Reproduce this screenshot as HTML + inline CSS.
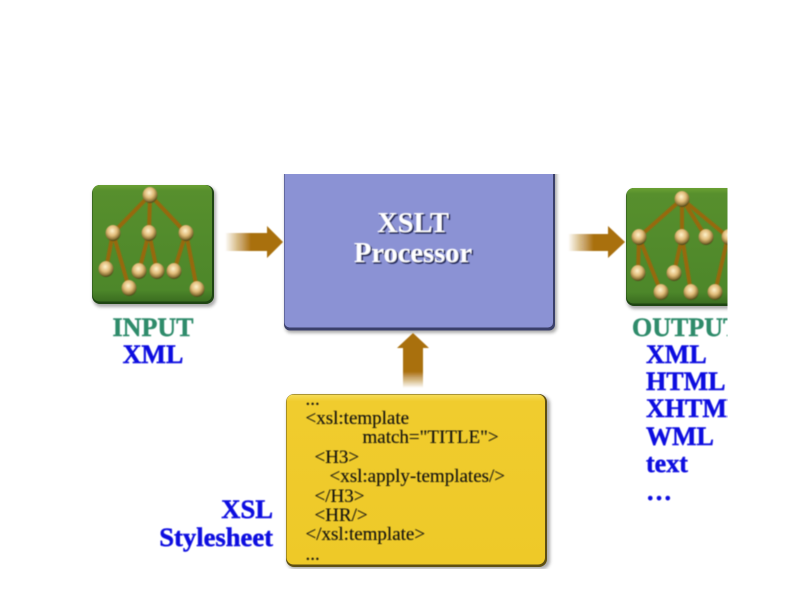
<!DOCTYPE html>
<html lang="en">
<head>
<meta charset="utf-8">
<title>XSLT Processor Diagram</title>
<style>
html,body{margin:0;padding:0;background:#fff;}
svg{display:block;}
text{font-family:"Liberation Serif",serif;}
.b{font-weight:bold;font-size:26px;fill:#0b0be0;stroke:#0b0be0;stroke-width:0.45;}
.g{font-weight:bold;font-size:26px;fill:#2e8b6b;stroke:#2e8b6b;stroke-width:0.4;}
.c{font-size:19px;fill:#111;stroke:#111;stroke-width:0.12;}
.l{stroke:#96690f;stroke-width:4;fill:none;stroke-linecap:round;}
</style>
</head>
<body>
<svg width="800" height="600" viewBox="0 0 800 600" xmlns="http://www.w3.org/2000/svg">
<defs>
  <radialGradient id="ball" cx="45%" cy="36%" r="62%">
    <stop offset="0" stop-color="#fff3cc"/>
    <stop offset="0.5" stop-color="#e0bb78"/>
    <stop offset="0.85" stop-color="#8d7336"/>
    <stop offset="1" stop-color="#4c4a1c"/>
  </radialGradient>
  <linearGradient id="gr" x1="0" y1="0" x2="0" y2="1">
    <stop offset="0" stop-color="#6aa033"/>
    <stop offset="0.05" stop-color="#578f2d"/>
    <stop offset="0.9" stop-color="#4d872a"/>
    <stop offset="1" stop-color="#3b6d20"/>
  </linearGradient>
  <linearGradient id="fadeR" x1="0" y1="0" x2="1" y2="0">
    <stop offset="0" stop-color="#a96f0c" stop-opacity="0"/>
    <stop offset="0.45" stop-color="#a96f0c"/>
    <stop offset="1" stop-color="#a96f0c"/>
  </linearGradient>
  <linearGradient id="fadeU" x1="0" y1="1" x2="0" y2="0">
    <stop offset="0" stop-color="#a96f0c" stop-opacity="0"/>
    <stop offset="0.3" stop-color="#a96f0c"/>
    <stop offset="1" stop-color="#a96f0c"/>
  </linearGradient>
  <linearGradient id="ye" x1="0" y1="0" x2="0" y2="1">
    <stop offset="0" stop-color="#f6dc5a"/>
    <stop offset="0.04" stop-color="#f0cc2e"/>
    <stop offset="1" stop-color="#eec928"/>
  </linearGradient>
  <clipPath id="right"><rect x="560" y="170" width="167.5" height="400"/></clipPath>
  <clipPath id="proc"><rect x="270" y="174" width="300" height="170"/></clipPath>
  <clipPath id="yel"><rect x="270" y="385" width="300" height="184"/></clipPath>
  <filter id="soft" x="-5%" y="-5%" width="110%" height="110%"><feGaussianBlur stdDeviation="0.4"/></filter>
  <filter id="sh" x="-10%" y="-10%" width="120%" height="120%"><feGaussianBlur stdDeviation="1.6"/></filter>
</defs>

<!-- Input tree -->
<rect x="93" y="187" width="123" height="120" rx="8" fill="#888" opacity="0.7" filter="url(#sh)"/>
<rect x="92" y="185" width="122" height="119" rx="8" fill="#1e4512"/>
<rect x="92.5" y="185" width="119.5" height="116.5" rx="7" fill="url(#gr)"/>
<path class="l" filter="url(#soft)" d="M150 195L113 233M150 195L149 233M150 195L186 233M113 233L106 269M113 233L129 288M149 233L139 271M149 233L157 271M186 233L174 271M186 233L197 289"/>
<g fill="url(#ball)" filter="url(#soft)">
  <ellipse cx="150" cy="195" rx="7.5" ry="8"/>
  <ellipse cx="113" cy="233" rx="7.5" ry="8"/>
  <ellipse cx="149" cy="233" rx="7.5" ry="8"/>
  <ellipse cx="186" cy="233" rx="7.5" ry="8"/>
  <ellipse cx="106" cy="269" rx="7.5" ry="8"/>
  <ellipse cx="139" cy="271" rx="7.5" ry="8"/>
  <ellipse cx="157" cy="271" rx="7.5" ry="8"/>
  <ellipse cx="174" cy="271" rx="7.5" ry="8"/>
  <ellipse cx="129" cy="288" rx="7.5" ry="8"/>
  <ellipse cx="197" cy="289" rx="7.5" ry="8"/>
</g>
<g filter="url(#soft)">
  <text class="g" x="153" y="336" text-anchor="middle">INPUT</text>
  <text class="b" x="153" y="363" text-anchor="middle">XML</text>
</g>

<!-- Arrow right 1 -->
<path d="M225 233H267V226L283 242L267 258V251H225Z" fill="url(#fadeR)" filter="url(#soft)"/>

<!-- Processor -->
<g clip-path="url(#proc)">
  <rect x="285" y="160" width="272" height="173" rx="6" fill="#888" opacity="0.7" filter="url(#sh)"/>
  <rect x="284" y="160" width="271" height="170.5" rx="6" fill="#3a3f6a"/>
  <rect x="284.5" y="160" width="268.5" height="167.5" rx="5" fill="#8b92d4"/>
</g>
<g font-weight="bold" font-size="28.5" text-anchor="middle" filter="url(#soft)">
  <text x="414.5" y="233.5" fill="#2c3060" stroke="#2c3060" stroke-width="0.4">XSLT</text>
  <text x="414.5" y="263.5" fill="#2c3060" stroke="#2c3060" stroke-width="0.4">Processor</text>
  <text x="413" y="232" fill="#fff">XSLT</text>
  <text x="413" y="262" fill="#fff">Processor</text>
</g>

<!-- Arrow up -->
<path d="M413 333L429 348H423V388H403V348H397Z" fill="url(#fadeU)" filter="url(#soft)"/>

<!-- Arrow right 2 -->
<path d="M568 234H608V226L625 242L608 258V251H568Z" fill="url(#fadeR)" filter="url(#soft)"/>

<!-- Output tree -->
<g clip-path="url(#right)">
  <rect x="627" y="190" width="140" height="119" rx="8" fill="#888" opacity="0.7" filter="url(#sh)"/>
  <rect x="626" y="188" width="140" height="118" rx="8" fill="#1e4512"/>
  <rect x="626.5" y="188" width="138" height="115.5" rx="7" fill="url(#gr)"/>
  <path class="l" filter="url(#soft)" d="M682 199L639 237M682 199L682 237M682 199L706 237M682 199L728 237M639 237L638 273M639 237L661 292M682 237L674 273M682 237L691 292M728 237L715 292"/>
  <g fill="url(#ball)" filter="url(#soft)">
    <ellipse cx="682" cy="199" rx="7.5" ry="8"/>
    <ellipse cx="639" cy="237" rx="7.5" ry="8"/>
    <ellipse cx="682" cy="237" rx="7.5" ry="8"/>
    <ellipse cx="706" cy="237" rx="7.5" ry="8"/>
    <ellipse cx="729" cy="237" rx="7.5" ry="8"/>
    <ellipse cx="638" cy="273" rx="7.5" ry="8"/>
    <ellipse cx="674" cy="273" rx="7.5" ry="8"/>
    <ellipse cx="661" cy="292" rx="7.5" ry="8"/>
    <ellipse cx="691" cy="292" rx="7.5" ry="8"/>
    <ellipse cx="715" cy="292" rx="7.5" ry="8"/>
  </g>
  <g filter="url(#soft)">
    <text class="g" x="632" y="336">OUTPUT</text>
    <text class="b" x="646" y="363">XML</text>
    <text class="b" x="646" y="390">HTML</text>
    <text class="b" x="646" y="417">XHTML</text>
    <text class="b" x="646" y="445">WML</text>
    <text class="b" x="646" y="472">text</text>
    <text class="b" x="646" y="500">…</text>
  </g>
</g>

<!-- Stylesheet -->
<g clip-path="url(#yel)">
  <rect x="287" y="396" width="263" height="173" rx="8" fill="#888" opacity="0.7" filter="url(#sh)"/>
  <rect x="286" y="394" width="261" height="173" rx="8" fill="#5e4f12"/>
  <rect x="286.5" y="394.5" width="258.5" height="170" rx="7" fill="url(#ye)"/>
</g>
<g filter="url(#soft)">
  <text class="c" x="305.5" y="405">...</text>
  <text class="c" x="305.5" y="424">&lt;xsl:template</text>
  <text class="c" x="362.5" y="443">match="TITLE"&gt;</text>
  <text class="c" x="314.5" y="463">&lt;H3&gt;</text>
  <text class="c" x="329.5" y="482">&lt;xsl:apply-templates/&gt;</text>
  <text class="c" x="314.5" y="502">&lt;/H3&gt;</text>
  <text class="c" x="314.5" y="521">&lt;HR/&gt;</text>
  <text class="c" x="305.5" y="540">&lt;/xsl:template&gt;</text>
  <text class="c" x="305.5" y="560">...</text>
  <text class="b" x="273" y="518" text-anchor="end" style="font-size:26.6px">XSL</text>
  <text class="b" x="273" y="546" text-anchor="end" style="font-size:26.6px">Stylesheet</text>
</g>
</svg>
</body>
</html>
